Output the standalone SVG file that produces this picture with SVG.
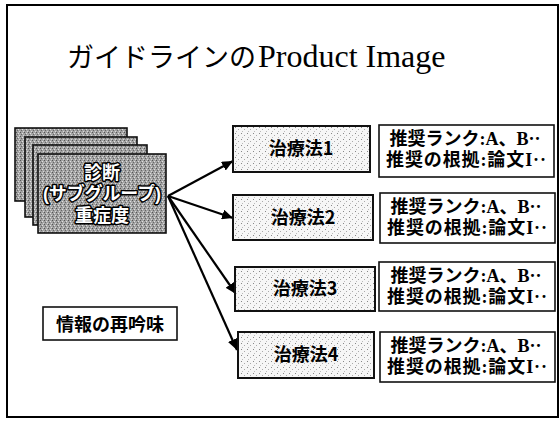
<svg xmlns="http://www.w3.org/2000/svg" width="560" height="422" viewBox="0 0 560 422">
<style>
.card{fill:url(#dark);stroke:#111;stroke-width:1.6}
.tbox{fill:url(#light);stroke:#111;stroke-width:2}
.rbox{fill:#fff;stroke:#111;stroke-width:1.6}
.lbl{font-family:"Liberation Serif","Noto Sans CJK JP","Noto Sans CJK SC",serif;font-weight:bold;font-size:18px;fill:#000;text-anchor:middle}
.tl{font-family:"Noto Sans CJK JP","Noto Sans CJK SC",sans-serif;font-weight:bold;font-size:18px;fill:#000;text-anchor:middle}
.ctext{font-family:"Liberation Sans","Noto Sans CJK JP","Noto Sans CJK SC",sans-serif;font-weight:bold;font-size:18px;fill:#fff;stroke:#000;stroke-width:3;paint-order:stroke;stroke-linejoin:round;text-anchor:middle}
.conn line{stroke:#000;stroke-width:2.2}
</style>
<defs>
<pattern id="dark" width="4" height="4" patternUnits="userSpaceOnUse">
<rect width="4" height="4" fill="#a2a2a2"/>
<rect x="0" y="0" width="1" height="1" fill="#555"/>
<rect x="2" y="1" width="1" height="1" fill="#e0e0e0"/>
<rect x="1" y="2" width="1" height="1" fill="#666"/>
<rect x="3" y="3" width="1" height="1" fill="#d8d8d8"/>
</pattern>
<pattern id="light" width="6" height="6" patternUnits="userSpaceOnUse">
<rect width="6" height="6" fill="#f6f6f6"/>
<rect x="1" y="1" width="1" height="1" fill="#888"/>
<rect x="4" y="3" width="1" height="1" fill="#aaa"/>
<rect x="2" y="5" width="1" height="1" fill="#bbb"/>
</pattern>
<marker id="arr" markerUnits="userSpaceOnUse" markerWidth="12" markerHeight="10" refX="11" refY="5" orient="auto">
<path d="M0,0 L11,5 L0,10 z" fill="#000"/>
</marker>
</defs>
<rect x="0" y="0" width="560" height="422" fill="#fff"/>
<rect x="7" y="5" width="551" height="412" fill="none" stroke="#000" stroke-width="2"/>

<g id="title">
<text x="67" y="67" font-size="27" fill="#000" font-family="'Noto Sans CJK JP','Noto Sans CJK SC',sans-serif">ガイドラインの</text>
<text x="258" y="67" font-size="32" fill="#000" font-family="'Liberation Serif',serif">Product Image</text>
</g>

<g id="diagnosis">
<rect class="card" x="15" y="128" width="112" height="73"/>
<rect class="card" x="25" y="137" width="112" height="80"/>
<rect class="card" x="33" y="145" width="114" height="80"/>
<rect class="card" x="38" y="154" width="128" height="79"/>
<text class="ctext" x="102" y="179">診断</text>
<text class="ctext" x="102" y="200" textLength="118" lengthAdjust="spacing">(サブグループ)</text>
<text class="ctext" x="102" y="222">重症度</text>
</g>

<g id="reexamine">
<rect class="rbox" x="43" y="307" width="134" height="33"/>
<text class="tl" x="110" y="331">情報の再吟味</text>
</g>

<g class="conn" id="connectors">
<line x1="168" y1="196" x2="233" y2="161" marker-end="url(#arr)"/>
<line x1="168" y1="196" x2="233" y2="218" marker-end="url(#arr)"/>
<line x1="168" y1="196" x2="236" y2="294" marker-end="url(#arr)"/>
<line x1="168" y1="196" x2="237" y2="350" marker-end="url(#arr)"/>
</g>

<g id="treat1">
<rect class="tbox" x="233" y="126" width="137" height="46"/>
<text class="tl" x="301" y="155">治療法1</text>
</g>
<g id="treat2">
<rect class="tbox" x="233" y="195" width="140" height="45"/>
<text class="tl" x="303" y="224">治療法2</text>
</g>
<g id="treat3">
<rect class="tbox" x="235" y="267" width="140" height="44"/>
<text class="tl" x="305" y="295">治療法3</text>
</g>
<g id="treat4">
<rect class="tbox" x="238" y="332" width="136" height="46"/>
<text class="tl" x="306" y="361">治療法4</text>
</g>

<g id="rec1">
<rect class="rbox" x="379" y="125" width="175" height="52"/>
<text class="lbl" x="465" y="145">推奨ランク:A、B··</text>
<text class="lbl" x="466" y="166" textLength="160" lengthAdjust="spacing">推奨の根拠:論文I··</text>
</g>
<g id="rec2">
<rect class="rbox" x="380" y="193" width="175" height="50"/>
<text class="lbl" x="466" y="213">推奨ランク:A、B··</text>
<text class="lbl" x="467" y="234" textLength="160" lengthAdjust="spacing">推奨の根拠:論文I··</text>
</g>
<g id="rec3">
<rect class="rbox" x="379" y="262" width="176" height="49"/>
<text class="lbl" x="466" y="282">推奨ランク:A、B··</text>
<text class="lbl" x="467" y="303" textLength="160" lengthAdjust="spacing">推奨の根拠:論文I··</text>
</g>
<g id="rec4">
<rect class="rbox" x="380" y="332" width="175" height="50"/>
<text class="lbl" x="466" y="352">推奨ランク:A、B··</text>
<text class="lbl" x="467" y="373" textLength="160" lengthAdjust="spacing">推奨の根拠:論文I··</text>
</g>
</svg>
